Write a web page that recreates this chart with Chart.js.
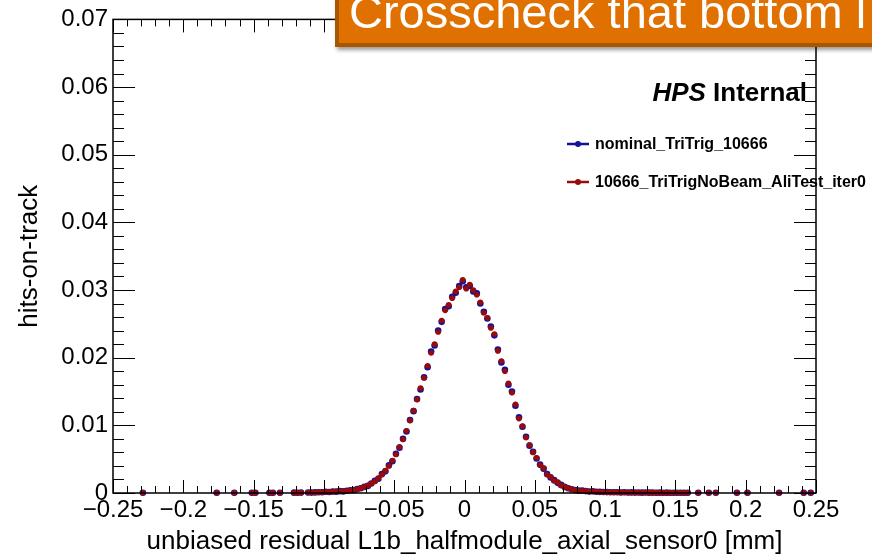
<!DOCTYPE html>
<html>
<head>
<meta charset="utf-8">
<script src="https://cdn.jsdelivr.net/npm/chart.js@4.4.0/dist/chart.umd.min.js"></script>
<style>
  html, body { margin: 0; padding: 0; background: #fff; overflow: hidden; }
  #wrap { position: relative; width: 872px; height: 556px; }
  #banner {
    position: absolute; left: 335px; top: -20px; width: 560px; height: 63px;
    background: #e07000; border-left: 4px solid #a85600; border-bottom: 4px solid #a85600;
    box-shadow: 2px 3px 4px rgba(0,0,0,0.4); overflow: hidden;
  }
  #banner span {
    position: absolute; left: 10px; top: 4px; line-height: 47px; white-space: nowrap;
    font: 47px "Liberation Sans", Arial, Helvetica, sans-serif; color: #fff;
  }
</style>
</head>
<body>
<div id="wrap">
  <canvas id="plot" width="872" height="556"></canvas>
  <div id="banner"><span>Crosscheck that bottom l</span></div>
</div>
<script>
// histogram bin centres (mm)
const binX = [
  -0.22875, -0.17625, -0.16375, -0.15125, -0.14875, -0.13875, -0.13625, -0.13125, -0.12125, -0.11875,
  -0.11625, -0.11125, -0.10875, -0.10625, -0.10375,
  -0.10125, -0.09875, -0.09625, -0.09375, -0.09125, -0.08875, -0.08625, -0.08375, -0.08125, -0.07875,
  -0.07625, -0.07375, -0.07125, -0.06875, -0.06625, -0.06375, -0.06125, -0.05875, -0.05625, -0.05375,
  -0.05125, -0.04875, -0.04625, -0.04375, -0.04125, -0.03875, -0.03625, -0.03375, -0.03125, -0.02875,
  -0.02625, -0.02375, -0.02125, -0.01875, -0.01625, -0.01375, -0.01125, -0.00875, -0.00625, -0.00375, -0.00125,
  0.00125, 0.00375, 0.00625, 0.00875, 0.01125, 0.01375, 0.01625, 0.01875, 0.02125, 0.02375,
  0.02625, 0.02875, 0.03125, 0.03375, 0.03625, 0.03875, 0.04125, 0.04375, 0.04625, 0.04875,
  0.05125, 0.05375, 0.05625, 0.05875, 0.06125, 0.06375, 0.06625, 0.06875, 0.07125, 0.07375,
  0.07625, 0.07875, 0.08125, 0.08375, 0.08625, 0.08875, 0.09125, 0.09375, 0.09625, 0.09875, 0.10125,
  0.10375, 0.10625, 0.10875, 0.11125, 0.11375, 0.11625, 0.11875, 0.12125, 0.12375, 0.12625,
  0.12875, 0.13125, 0.13375, 0.13625, 0.13875, 0.14125, 0.14375, 0.14625, 0.14875, 0.15125,
  0.15375, 0.15625, 0.15875,
  0.16625, 0.17375, 0.17875, 0.19375, 0.20125, 0.22375, 0.24125, 0.24625
];

// nominal_TriTrig_10666 (blue)
const nominalY = [
  0.00003, 0.00003, 0.00003, 0.00004, 0.00003, 0.00004, 0.00003, 0.00004, 0.00005, 0.00004,
  0.00006, 0.00007, 0.00006, 0.00009, 0.00011,
  0.00012, 0.00018, 0.00015, 0.00022, 0.0002, 0.00027, 0.00024, 0.00033, 0.0004, 0.00042,
  0.00058, 0.0007, 0.0009, 0.00105, 0.0014, 0.0018, 0.0021, 0.0028, 0.0032, 0.0041,
  0.0047, 0.0058, 0.0067, 0.008, 0.0091, 0.0108, 0.0121, 0.0139, 0.0153, 0.0171,
  0.0186, 0.0209, 0.0218, 0.024, 0.0253, 0.0272, 0.0276, 0.029, 0.0296, 0.0306, 0.0313,
  0.0304, 0.0306, 0.0298, 0.0295, 0.028, 0.0268, 0.0258, 0.0246, 0.0233, 0.0212,
  0.0193, 0.0182, 0.016, 0.015, 0.0129, 0.0112, 0.0098, 0.0083, 0.007, 0.0061,
  0.0051, 0.0042, 0.0036, 0.0028, 0.0023, 0.0019, 0.0015, 0.0012, 0.0009, 0.0007,
  0.00056, 0.00043, 0.00035, 0.00036, 0.00028, 0.00022, 0.00026, 0.00018, 0.00017, 0.00014, 0.00013,
  0.00012, 0.0001, 0.00012, 0.00008, 0.0001, 0.00007, 0.00009, 0.00006, 0.00008, 0.00005,
  0.00007, 0.00005, 0.00006, 0.00004, 0.00005, 0.00004, 0.00005, 0.00003, 0.00004, 0.00003,
  0.00004, 0.00003, 0.00003,
  0.00003, 0.00003, 0.00003, 0.00003, 0.00003, 0.00003, 0.00003, 0.00003
];

// 10666_TriTrigNoBeam_AliTest_iter0 (red)
const aliTestY = [
  0.00003, 0.00003, 0.00004, 0.00003, 0.00004, 0.00003, 0.00004, 0.00004, 0.00005, 0.00005,
  0.00005, 0.00008, 0.00006, 0.0001, 0.0001,
  0.00014, 0.00016, 0.00017, 0.0002, 0.00023, 0.00025, 0.00027, 0.0003, 0.00038, 0.00045,
  0.00055, 0.00072, 0.00088, 0.0011, 0.0014, 0.0017, 0.0022, 0.0027, 0.0033, 0.004,
  0.0048, 0.0057, 0.0068, 0.0079, 0.0092, 0.0107, 0.0122, 0.0138, 0.0155, 0.017,
  0.0188, 0.0207, 0.022, 0.0238, 0.0255, 0.027, 0.0278, 0.0288, 0.0298, 0.0304, 0.0315,
  0.0302, 0.0308, 0.03, 0.0293, 0.0282, 0.0266, 0.0259, 0.0244, 0.0235, 0.021,
  0.0195, 0.018, 0.0162, 0.0148, 0.0131, 0.011, 0.0099, 0.0082, 0.0071, 0.006,
  0.0052, 0.0041, 0.0037, 0.0027, 0.0024, 0.0018, 0.0016, 0.0011, 0.0009, 0.00072,
  0.00054, 0.00045, 0.00033, 0.00034, 0.0003, 0.00021, 0.00024, 0.00019, 0.00015, 0.00015, 0.00012,
  0.00011, 0.00011, 0.0001, 0.00009, 0.00009, 0.00008, 0.00008, 0.00006, 0.00007, 0.00006,
  0.00006, 0.00005, 0.00005, 0.00005, 0.00004, 0.00004, 0.00004, 0.00004, 0.00003, 0.00003,
  0.00003, 0.00004, 0.00003,
  0.00003, 0.00003, 0.00003, 0.00003, 0.00003, 0.00003, 0.00003, 0.00003
];

const xTicks = [-0.25, -0.2, -0.15, -0.1, -0.05, 0, 0.05, 0.1, 0.15, 0.2, 0.25];
const yTicks = [0, 0.01, 0.02, 0.03, 0.04, 0.05, 0.06, 0.07];
const xMinorStep = 0.01;
const yMinorStep = 0.002;

const seriesNames = ["nominal_TriTrig_10666", "10666_TriTrigNoBeam_AliTest_iter0"];
const seriesColors = ["#11119c", "#990b0b"];

const FONT = '"Liberation Sans", Arial, Helvetica, sans-serif';

function fmt(v) {
  return (v < 0 ? "\u2212" : "") + String(Math.abs(v));
}

// ROOT-like frame, inward ticks, legend and label
const rootFrame = {
  id: "rootFrame",
  afterDraw(chart) {
    const c = chart.ctx;
    const a = chart.chartArea;
    const xs = chart.scales.x, ys = chart.scales.y;
    c.save();
    c.strokeStyle = "#000";
    c.lineWidth = 1.5;
    c.strokeRect(a.left, a.top, a.right - a.left, a.bottom - a.top);

    c.lineWidth = 1;
    c.beginPath();
    for (let i = 0; i <= 50; i++) {
      const v = -0.25 + i * xMinorStep;
      const px = Math.round(xs.getPixelForValue(v)) + 0.5;
      const len = (i % 5 === 0) ? 13 : 7;
      c.moveTo(px, a.bottom); c.lineTo(px, a.bottom - len);
      c.moveTo(px, a.top); c.lineTo(px, a.top + len);
    }
    for (let i = 0; i <= 35; i++) {
      const v = i * yMinorStep;
      const py = Math.round(ys.getPixelForValue(v)) + 0.5;
      const len = (i % 5 === 0) ? 22 : 11;
      c.moveTo(a.left, py); c.lineTo(a.left + len, py);
      c.moveTo(a.right, py); c.lineTo(a.right - len, py);
    }
    c.stroke();

    // legend
    const rows = [144, 182];
    rows.forEach((y, i) => {
      c.strokeStyle = seriesColors[i];
      c.fillStyle = seriesColors[i];
      c.lineWidth = 2.5;
      c.beginPath(); c.moveTo(567, y); c.lineTo(589, y); c.stroke();
      c.beginPath(); c.arc(578, y, 3, 0, Math.PI * 2); c.fill();
      c.fillStyle = "#000";
      c.font = "bold 16px " + FONT;
      c.textBaseline = "middle";
      c.textAlign = "left";
      c.fillText(seriesNames[i], 595, y + 1);
    });

    // HPS Internal
    c.textBaseline = "alphabetic";
    c.textAlign = "right";
    c.font = "bold 26px " + FONT;
    c.fillStyle = "#000";
    c.fillText("Internal", 807, 101);
    const w = c.measureText("Internal").width;
    c.font = "italic bold 26px " + FONT;
    c.fillText("HPS ", 807 - w, 101);
    c.restore();
  }
};

const datasets = [
  {
    label: seriesNames[0],
    data: binX.map((x, i) => ({ x: x, y: nominalY[i] })),
    pointBackgroundColor: seriesColors[0],
    pointBorderWidth: 0,
    pointRadius: 3.3,
    clip: false,
    order: 1
  },
  {
    label: seriesNames[1],
    data: binX.map((x, i) => ({ x: x, y: aliTestY[i] })),
    pointBackgroundColor: seriesColors[1],
    pointBorderWidth: 0,
    pointRadius: 2.8,
    clip: false,
    order: 0
  }
];

new Chart(document.getElementById("plot"), {
  type: "scatter",
  data: { datasets: datasets },
  options: {
    responsive: false,
    animation: false,
    devicePixelRatio: 1,
    layout: { padding: { left: 14, top: 17, right: 56, bottom: 0 } },
    plugins: { legend: { display: false }, tooltip: { enabled: false } },
    scales: {
      x: {
        type: "linear",
        min: -0.25,
        max: 0.25,
        afterBuildTicks: s => { s.ticks = xTicks.map(v => ({ value: v })); },
        afterFit: s => { s.height = 63; },
        grid: { display: false, drawTicks: false, tickLength: 0 },
        border: { display: false },
        ticks: {
          color: "#000",
          font: { family: FONT, size: 24 },
          padding: 3,
          maxRotation: 0,
          autoSkip: false,
          callback: v => fmt(v)
        },
        title: {
          display: true,
          text: "unbiased residual L1b_halfmodule_axial_sensor0 [mm]",
          color: "#000",
          font: { family: FONT, size: 26 },
          padding: { top: 0, bottom: -1 }
        }
      },
      y: {
        type: "linear",
        min: 0,
        max: 0.07,
        afterBuildTicks: s => { s.ticks = yTicks.map(v => ({ value: v })); },
        afterFit: s => { s.width = 99; },
        grid: { display: false, drawTicks: false, tickLength: 0 },
        border: { display: false },
        ticks: {
          color: "#000",
          font: { family: FONT, size: 24 },
          padding: 5,
          autoSkip: false,
          callback: v => fmt(v)
        },
        title: {
          display: true,
          text: "hits-on-track",
          color: "#000",
          font: { family: FONT, size: 26 },
          padding: { top: 0, bottom: 0 }
        }
      }
    }
  },
  plugins: [rootFrame]
});
</script>
</body>
</html>
